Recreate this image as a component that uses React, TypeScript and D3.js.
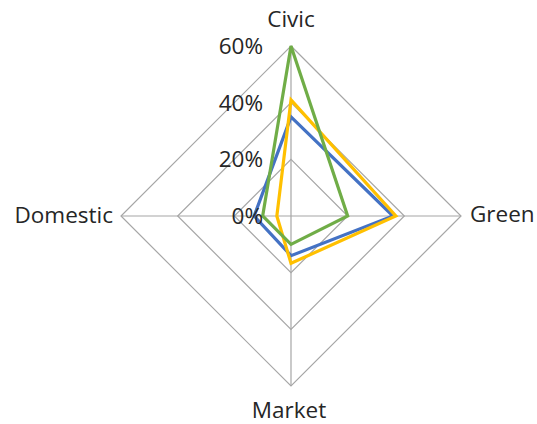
import React from "react";
import * as d3 from "d3";

const axes = ["Civic", "Green", "Market", "Domestic"];
const tickValues = [0, 0.2, 0.4, 0.6];
const tickLabels = ["0%", "20%", "40%", "60%"];
const seriesBlue = [0.35, 0.36, 0.14, 0.13];
const seriesYellow = [0.41, 0.37, 0.167, 0.05];
const seriesGreen = [0.6, 0.2, 0.1, 0.1];
const seriesList = [
  { values: seriesBlue, color: "#4472C4" },
  { values: seriesYellow, color: "#FFC000" },
  { values: seriesGreen, color: "#70AD47" },
];

export default function App() {
  const W = 537, H = 424;
  const cx = 291, cy = 216, R = 170;
  const r = d3.scaleLinear().domain([0, 0.6]).range([0, R]);
  const angle = (i: number) => (i * 2 * Math.PI) / axes.length;
  const pt = (i: number, v: number): [number, number] => [
    cx + r(v) * Math.sin(angle(i)),
    cy - r(v) * Math.cos(angle(i)),
  ];
  const line = d3.line<[number, number]>().curve(d3.curveLinearClosed);
  const font = "'Open Sans', sans-serif";
  const fs = 22.5;
  const labelPos = [
    { x: 291, y: 27, anchor: "middle" },
    { x: 470, y: 222, anchor: "start" },
    { x: 289, y: 418, anchor: "middle" },
    { x: 113, y: 223, anchor: "end" },
  ];
  return (
    <svg width={W} height={H} style={{ position: "absolute", left: 0, top: 0 }}>
      <rect width={W} height={H} fill="#fff" />
      {tickValues.slice(1).map((t) => (
        <path
          key={t}
          d={line(axes.map((_, i) => pt(i, t))) || ""}
          fill="none"
          stroke="#a6a6a6"
          strokeWidth={1.2}
        />
      ))}
      {axes.map((_, i) => {
        const [x, y] = pt(i, 0.6);
        return <line key={i} x1={cx} y1={cy} x2={x} y2={y} stroke="#a6a6a6" strokeWidth={1.2} />;
      })}
      {seriesList.map((s, k) => (
        <path
          key={k}
          d={line(s.values.map((v, i) => pt(i, v))) || ""}
          fill="none"
          stroke={s.color}
          strokeWidth={3.2}
          strokeLinejoin="miter"
        />
      ))}
      {tickValues.map((t, k) => (
        <text
          key={t}
          x={cx - 28}
          y={cy - r(t) + 8}
          textAnchor="end"
          fontFamily={font}
          fontSize={fs}
          fill="#262626"
        >
          {tickLabels[k]}
        </text>
      ))}
      {axes.map((a, i) => (
        <text
          key={a}
          x={labelPos[i].x}
          y={labelPos[i].y}
          textAnchor={labelPos[i].anchor as any}
          fontFamily={font}
          fontSize={fs}
          fill="#262626"
        >
          {a}
        </text>
      ))}
    </svg>
  );
}
